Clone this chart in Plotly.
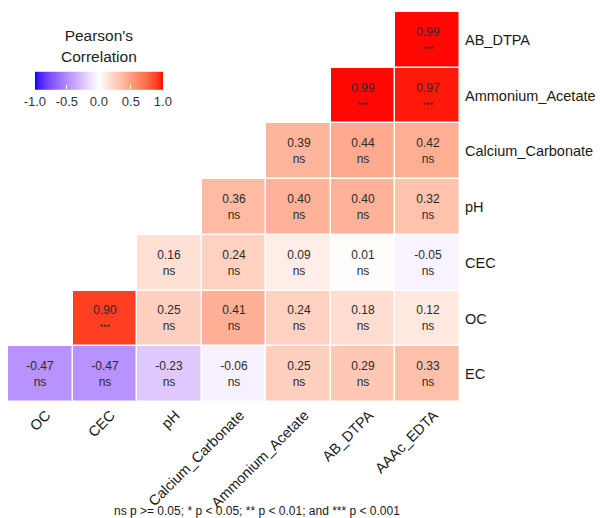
import plotly.graph_objects as go

x_labels = ["OC", "CEC", "pH", "Calcium_Carbonate", "Ammonium_Acetate", "AB_DTPA", "AAAc_EDTA"]
y_labels = ["EC", "OC", "CEC", "pH", "Calcium_Carbonate", "Ammonium_Acetate", "AB_DTPA"]

N = None
r_EC = [-0.47, -0.47, -0.23, -0.06, 0.25, 0.29, 0.33]
r_OC = [N, 0.90, 0.25, 0.41, 0.24, 0.18, 0.12]
r_CEC = [N, N, 0.16, 0.24, 0.09, 0.01, -0.05]
r_pH = [N, N, N, 0.36, 0.40, 0.40, 0.32]
r_CaCO3 = [N, N, N, N, 0.39, 0.44, 0.42]
r_AmAc = [N, N, N, N, N, 0.99, 0.97]
r_AB = [N, N, N, N, N, N, 0.99]

s_EC = ["ns"] * 7
s_OC = ["", "***", "ns", "ns", "ns", "ns", "ns"]
s_CEC = ["", "", "ns", "ns", "ns", "ns", "ns"]
s_pH = ["", "", "", "ns", "ns", "ns", "ns"]
s_CaCO3 = ["", "", "", "", "ns", "ns", "ns"]
s_AmAc = ["", "", "", "", "", "***", "***"]
s_AB = ["", "", "", "", "", "", "***"]

z = [r_EC, r_OC, r_CEC, r_pH, r_CaCO3, r_AmAc, r_AB]
sig = [s_EC, s_OC, s_CEC, s_pH, s_CaCO3, s_AmAc, s_AB]

text = []
for zr, sr in zip(z, sig):
    row = []
    for v, s in zip(zr, sr):
        if v is None:
            row.append("")
        else:
            star = "<span style='font-size:9px'>%s</span>" % s if s == "***" else s
            row.append("%.2f<br>%s" % (v, star))
    text.append(row)


# --- Lab-space gradient (blue - white - red), like ggplot's gradient2 ---
def _srgb_to_lin(c):
    return c / 12.92 if c <= 0.04045 else ((c + 0.055) / 1.055) ** 2.4


def _lin_to_srgb(c):
    c = max(0.0, min(1.0, c))
    return 12.92 * c if c <= 0.0031308 else 1.055 * c ** (1 / 2.4) - 0.055


WX, WY, WZ = 0.95047, 1.0, 1.08883


def _f(t):
    return t ** (1 / 3) if t > 216 / 24389 else (24389 / 27 * t + 16) / 116


def _finv(t):
    return t ** 3 if t ** 3 > 216 / 24389 else (116 * t - 16) / (24389 / 27)


def rgb_to_lab(rgb):
    r, g, b = [_srgb_to_lin(v / 255) for v in rgb]
    X = 0.4124564 * r + 0.3575761 * g + 0.1804375 * b
    Y = 0.2126729 * r + 0.7151522 * g + 0.0721750 * b
    Z = 0.0193339 * r + 0.1191920 * g + 0.9503041 * b
    fx, fy, fz = _f(X / WX), _f(Y / WY), _f(Z / WZ)
    return (116 * fy - 16, 500 * (fx - fy), 200 * (fy - fz))


def lab_to_rgb(lab):
    L, a, b = lab
    fy = (L + 16) / 116
    fx = fy + a / 500
    fz = fy - b / 200
    X, Y, Z = WX * _finv(fx), WY * _finv(fy), WZ * _finv(fz)
    r = 3.2404542 * X - 1.5371385 * Y - 0.4985314 * Z
    g = -0.9692660 * X + 1.8760108 * Y + 0.0415560 * Z
    bb = 0.0556434 * X - 0.2040259 * Y + 1.0572252 * Z
    return tuple(int(round(_lin_to_srgb(c) * 255)) for c in (r, g, bb))


low, mid, high = rgb_to_lab((0, 0, 255)), rgb_to_lab((255, 255, 255)), rgb_to_lab((255, 0, 0))
colorscale = []
n = 40
for i in range(n + 1):
    t = i / n
    if t <= 0.5:
        u = t / 0.5
        lab = tuple(low[k] + (mid[k] - low[k]) * u for k in range(3))
    else:
        u = (t - 0.5) / 0.5
        lab = tuple(mid[k] + (high[k] - mid[k]) * u for k in range(3))
    r, g, b = lab_to_rgb(lab)
    colorscale.append([t, "rgb(%d,%d,%d)" % (r, g, b)])

FONT = "Liberation Sans, Arial"

fig = go.Figure(go.Heatmap(
    x=x_labels, y=y_labels, z=z, text=text, texttemplate="%{text}",
    textfont=dict(family=FONT, size=12, color="#2a2a2a"),
    zmin=-1, zmax=1,
    colorscale=colorscale,
    xgap=1.5, ygap=1.5, hoverongaps=False,
    colorbar=dict(
        orientation="h", lenmode="pixels", len=148, thickness=18,
        xref="paper", x=0.201, xanchor="center",
        y=0.841, yanchor="middle",
        title=dict(text="Pearson's<br>Correlation", side="top",
                   font=dict(family=FONT, size=15.5, color="#222")),
        tickvals=[-1, -0.5, 0, 0.5, 1],
        ticktext=["-1.0", "-0.5", "0.0", "0.5", "1.0"],
        ticks="inside", ticklen=4, tickcolor="white",
        tickfont=dict(family=FONT, size=13, color="#333"),
        outlinewidth=0,
    ),
))

fig.update_layout(
    width=604, height=518,
    margin=dict(l=0, r=152, t=4, b=124),
    paper_bgcolor="white", plot_bgcolor="white",
    font=dict(family=FONT, color="#1a1a1a"),
    xaxis=dict(tickangle=-45, showgrid=False, zeroline=False, showline=False,
               tickfont=dict(size=14.5, color="#1a1a1a"), ticks="", automargin=False,
               ticklabelshift=6, ticklabelstandoff=1),
    yaxis=dict(side="right", showgrid=False, zeroline=False, showline=False,
               tickfont=dict(size=14.5, color="#1a1a1a"), ticks="", automargin=False,
               ticklabelstandoff=4),
    annotations=[dict(
        text="ns p >= 0.05; * p < 0.05; ** p < 0.01; and *** p < 0.001",
        xref="paper", yref="paper", x=(257 - 8) / 452, y=(390 - 490) / 390,
        xanchor="center", yanchor="top", showarrow=False,
        font=dict(family=FONT, size=12, color="#1a1a1a"),
    )],
)

fig.write_html("out.html")
